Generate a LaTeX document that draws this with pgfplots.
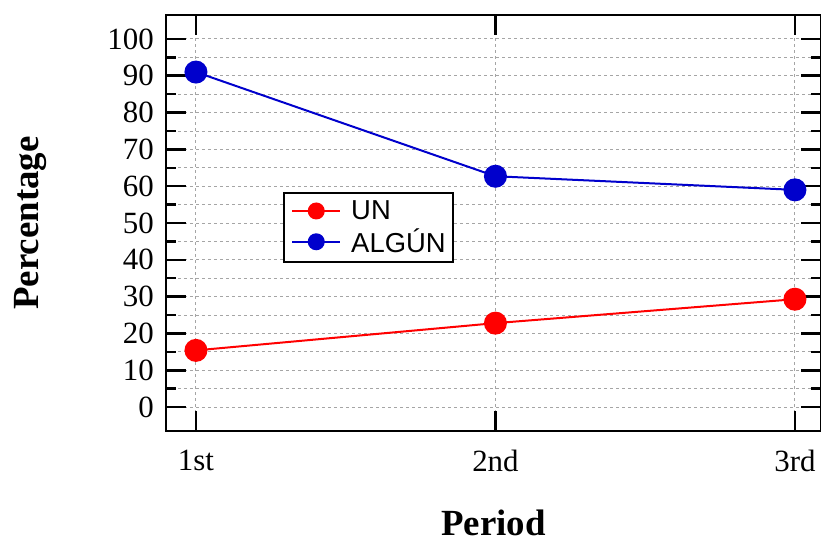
\documentclass[border=0pt]{standalone}
\usepackage{fontspec}
\setmainfont{Liberation Serif}
\newfontfamily\arialfont{Liberation Sans}
\usepackage{pgfplots}
\pgfplotsset{compat=1.18}
\definecolor{myred}{RGB}{255,0,0}
\definecolor{myblue}{RGB}{0,0,204}
\definecolor{gridgray}{RGB}{165,165,165}
\begin{document}
\begin{tikzpicture}
\begin{axis}[
 name=ax,
 scale only axis,
 width=655bp, height=416bp,
 xmin=-0.1, xmax=2.087,
 ymin=-6.5, ymax=106.5,
 xtick={0,1,2}, xticklabels={1st,2nd,3rd},
 ytick={0,10,...,100},
 minor ytick={5,15,...,95},
 tick align=inside,
 major tick length=20bp,
 minor tick length=10bp,
 every tick/.style={black, line width=2.5bp},
 axis line style={line width=2.5bp},
 ymajorgrids, yminorgrids, xmajorgrids,
 major grid style={gridgray, line width=0.9bp, dash pattern=on 3bp off 3bp},
 minor grid style={gridgray, line width=0.9bp, dash pattern=on 3bp off 3bp},
 tick label style={font=\fontsize{31}{31}\selectfont},
 /pgf/number format/assume math mode=true,
 xticklabel style={anchor=north, inner sep=0pt, yshift=-19bp},
 yticklabel style={anchor=east, inner sep=0pt, xshift=-12bp},
 xlabel={Period}, ylabel={Percentage},
 xlabel style={at={(rel axis cs:0.5,-0.22)}, anchor=center, inner sep=0pt, font=\fontsize{37}{37}\selectfont\bfseries},
 ylabel style={at={(rel axis cs:-0.207,0.5)}, anchor=center, inner sep=0pt, rotate=0, font=\fontsize{37}{37}\selectfont\bfseries},
 legend cell align=left,
 legend style={at={(rel axis cs:0.179,0.575)}, anchor=north west, draw=black, line width=2bp,
   font=\arialfont\fontsize{27.5}{27.5}\selectfont, inner xsep=7bp, inner ysep=8bp, row sep=8bp, column sep=10bp,
   nodes={inner sep=0bp}},
 legend image code/.code={\draw[mark repeat=2,mark phase=2,#1,mark size=7.5bp] plot coordinates {(0bp,0bp) (24bp,0bp) (48bp,0bp)};},
]
\addplot[myred, line width=2bp, mark=*, mark size=10.5bp, mark options={solid, fill=myred, draw=myred}] coordinates {(0,15.4) (1,22.8) (2,29.3)};
\addlegendentry{UN}
\addplot[myblue, line width=2bp, mark=*, mark size=10.5bp, mark options={solid, fill=myblue, draw=myblue}] coordinates {(0,91.0) (1,62.7) (2,59.0)};
\addlegendentry{ALGÚN}
\end{axis}
\path (ax.south west) ++(-166bp,-110bp) coordinate (bbA);
\path (ax.north east) ++(0bp,15bp) coordinate (bbB);
\pgfresetboundingbox
\path (bbA) rectangle (bbB);
\end{tikzpicture}
\end{document}
